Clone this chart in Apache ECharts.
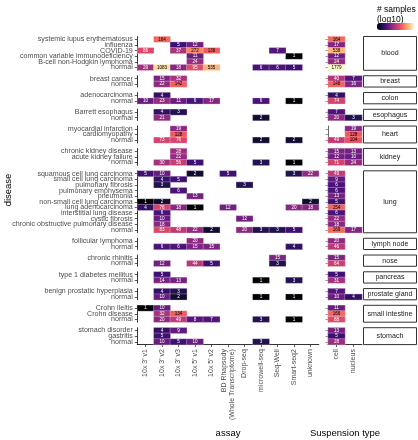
<!DOCTYPE html>
<html><head><meta charset="utf-8">
<script src="https://cdn.jsdelivr.net/npm/echarts/dist/echarts.min.js"></script>
<style>html,body{margin:0;padding:0;background:#fff}#c{width:418px;height:440px}</style>
</head><body><div id="c"></div><script>
const tissues = ['blood','breast','colon','esophagus','heart','kidney','lung','lymph node','nose','pancreas','prostate gland','small intestine','stomach'];
const diseases = [
 ['systemic lupus erythematosus','influenza','COVID-19','common variable immunodeficiency','B-cell non-Hodgkin lymphoma','normal'],
 ['breast cancer','normal'],
 ['adenocarcinoma','normal'],
 ['Barrett esophagus','normal'],
 ['myocardial infarction','cardiomyopathy','normal'],
 ['chronic kidney disease','acute kidney failure','normal'],
 ['squamous cell lung carcinoma','small cell lung carcinoma','pulmonary fibrosis','pulmonary emphysema','pneumonia','non-small cell lung carcinoma','lung adenocarcinoma','interstitial lung disease','cystic fibrosis','chronic obstructive pulmonary disease','normal'],
 ['follicular lymphoma','normal'],
 ['chronic rhinitis','normal'],
 ['type 1 diabetes mellitus','normal'],
 ['benign prostatic hyperplasia','normal'],
 ['Crohn ileitis','Crohn disease','normal'],
 ['stomach disorder','gastritis','normal']
];
const assays = ["10x 3' v1","10x 3' v2","10x 3' v3","10x 5' v1","10x 5' v2","BD Rhapsody\n(Whole Transcriptome)","Drop-seq","microwell-seq","Seq-Well","Smart-seq2","unknown"];
const suspensionTypes = ['cell','nucleus'];
const BD = assays[5];

// [tissue, disease, assay, number of samples]
const assayCounts = [
 ['blood','systemic lupus erythematosus',"10x 3' v2",164],
 ['blood','influenza',"10x 3' v3",5],['blood','influenza',"10x 5' v1",12],
 ['blood','COVID-19',"10x 3' v1",86],['blood','COVID-19',"10x 3' v3",37],['blood','COVID-19',"10x 5' v1",272],['blood','COVID-19',"10x 5' v2",136],['blood','COVID-19','Seq-Well',7],
 ['blood','common variable immunodeficiency',"10x 5' v1",11],['blood','common variable immunodeficiency','Smart-seq2',1],
 ['blood','B-cell non-Hodgkin lymphoma',"10x 5' v1",24],
 ['blood','normal',"10x 3' v1",29],['blood','normal',"10x 3' v2",1083],['blood','normal',"10x 3' v3",18],['blood','normal',"10x 5' v1",95],['blood','normal',"10x 5' v2",535],['blood','normal','microwell-seq',6],['blood','normal','Seq-Well',6],['blood','normal','Smart-seq2',5],
 ['breast','breast cancer',"10x 3' v2",15],['breast','breast cancer',"10x 3' v3",32],
 ['breast','normal',"10x 3' v2",22],['breast','normal',"10x 3' v3",142],
 ['colon','adenocarcinoma',"10x 3' v2",4],
 ['colon','normal',"10x 3' v1",10],['colon','normal',"10x 3' v2",23],['colon','normal',"10x 3' v3",11],['colon','normal',"10x 5' v1",6],['colon','normal',"10x 5' v2",17],['colon','normal','microwell-seq',6],['colon','normal','Smart-seq2',1],
 ['esophagus','Barrett esophagus',"10x 3' v2",4],['esophagus','Barrett esophagus',"10x 3' v3",3],
 ['esophagus','normal',"10x 3' v2",21],['esophagus','normal','microwell-seq',2],
 ['heart','myocardial infarction',"10x 3' v3",19],
 ['heart','cardiomyopathy',"10x 3' v3",128],
 ['heart','normal',"10x 3' v2",73],['heart','normal',"10x 3' v3",76],['heart','normal','microwell-seq',2],['heart','normal','Smart-seq2',2],
 ['kidney','chronic kidney disease',"10x 3' v3",28],
 ['kidney','acute kidney failure',"10x 3' v3",22],
 ['kidney','normal',"10x 3' v2",30],['kidney','normal',"10x 3' v3",56],['kidney','normal',"10x 5' v1",5],['kidney','normal','microwell-seq',3],['kidney','normal','Smart-seq2',1],
 ['lung','squamous cell lung carcinoma',"10x 3' v1",5],['lung','squamous cell lung carcinoma',"10x 3' v2",10],['lung','squamous cell lung carcinoma',"10x 5' v1",2],['lung','squamous cell lung carcinoma',BD,5],['lung','squamous cell lung carcinoma','Smart-seq2',3],['lung','squamous cell lung carcinoma','unknown',22],
 ['lung','small cell lung carcinoma',"10x 3' v2",4],['lung','small cell lung carcinoma',"10x 3' v3",5],
 ['lung','pulmonary fibrosis',"10x 3' v2",3],['lung','pulmonary fibrosis','Drop-seq',3],
 ['lung','pulmonary emphysema',"10x 3' v3",6],
 ['lung','pneumonia',"10x 5' v1",13],
 ['lung','non-small cell lung carcinoma',"10x 3' v1",1],['lung','non-small cell lung carcinoma',"10x 3' v2",2],['lung','non-small cell lung carcinoma','unknown',2],
 ['lung','lung adenocarcinoma',"10x 3' v1",4],['lung','lung adenocarcinoma',"10x 3' v2",76],['lung','lung adenocarcinoma',"10x 3' v3",18],['lung','lung adenocarcinoma',"10x 5' v1",1],['lung','lung adenocarcinoma',BD,12],['lung','lung adenocarcinoma','Smart-seq2',20],['lung','lung adenocarcinoma','unknown',18],
 ['lung','interstitial lung disease',"10x 3' v2",6],
 ['lung','cystic fibrosis',"10x 3' v2",10],['lung','cystic fibrosis','Drop-seq',12],
 ['lung','chronic obstructive pulmonary disease',"10x 3' v2",18],
 ['lung','normal',"10x 3' v2",83],['lung','normal',"10x 3' v3",48],['lung','normal',"10x 5' v1",22],['lung','normal',"10x 5' v2",2],['lung','normal','Drop-seq',20],['lung','normal','microwell-seq',3],['lung','normal','Seq-Well',3],['lung','normal','Smart-seq2',5],
 ['lymph node','follicular lymphoma',"10x 5' v1",20],
 ['lymph node','normal',"10x 3' v2",6],['lymph node','normal',"10x 3' v3",6],['lymph node','normal',"10x 5' v1",15],['lymph node','normal',"10x 5' v2",15],['lymph node','normal','Smart-seq2',4],
 ['nose','chronic rhinitis','Seq-Well',15],
 ['nose','normal',"10x 3' v2",12],['nose','normal',"10x 5' v1",44],['nose','normal',"10x 5' v2",5],['nose','normal','Seq-Well',3],
 ['pancreas','type 1 diabetes mellitus',"10x 3' v2",5],
 ['pancreas','normal',"10x 3' v2",14],['pancreas','normal',"10x 3' v3",13],['pancreas','normal','microwell-seq',1],['pancreas','normal','Smart-seq2',3],
 ['prostate gland','benign prostatic hyperplasia',"10x 3' v2",4],['prostate gland','benign prostatic hyperplasia',"10x 3' v3",3],
 ['prostate gland','normal',"10x 3' v2",10],['prostate gland','normal',"10x 3' v3",2],['prostate gland','normal','microwell-seq',1],['prostate gland','normal','Smart-seq2',1],
 ['small intestine','Crohn ileitis',"10x 3' v1",1],['small intestine','Crohn ileitis',"10x 3' v2",10],
 ['small intestine','Crohn disease',"10x 3' v2",32],['small intestine','Crohn disease',"10x 3' v3",134],
 ['small intestine','normal',"10x 3' v2",20],['small intestine','normal',"10x 3' v3",49],['small intestine','normal',"10x 5' v1",8],['small intestine','normal',"10x 5' v2",7],['small intestine','normal','microwell-seq',3],['small intestine','normal','Smart-seq2',1],
 ['stomach','stomach disorder',"10x 3' v2",4],['stomach','stomach disorder',"10x 3' v3",9],
 ['stomach','gastritis',"10x 3' v2",5],
 ['stomach','normal',"10x 3' v2",10],['stomach','normal',"10x 3' v3",5],['stomach','normal',"10x 5' v1",10],['stomach','normal','microwell-seq',3]
];

// [tissue, disease, suspension type, number of samples]
const suspensionCounts = [
 ['blood','systemic lupus erythematosus','cell',164],['blood','influenza','cell',17],['blood','COVID-19','cell',538],['blood','common variable immunodeficiency','cell',12],['blood','B-cell non-Hodgkin lymphoma','cell',24],['blood','normal','cell',1779],
 ['breast','breast cancer','cell',40],['breast','breast cancer','nucleus',7],['breast','normal','cell',148],['breast','normal','nucleus',16],
 ['colon','adenocarcinoma','cell',4],['colon','normal','cell',74],
 ['esophagus','Barrett esophagus','cell',7],['esophagus','normal','cell',20],['esophagus','normal','nucleus',3],
 ['heart','myocardial infarction','nucleus',19],['heart','cardiomyopathy','nucleus',128],['heart','normal','cell',49],['heart','normal','nucleus',104],
 ['kidney','chronic kidney disease','cell',15],['kidney','chronic kidney disease','nucleus',13],['kidney','acute kidney failure','cell',12],['kidney','acute kidney failure','nucleus',10],['kidney','normal','cell',71],['kidney','normal','nucleus',24],
 ['lung','squamous cell lung carcinoma','cell',49],['lung','small cell lung carcinoma','cell',9],['lung','pulmonary fibrosis','cell',6],['lung','pulmonary emphysema','cell',6],['lung','pneumonia','cell',13],['lung','non-small cell lung carcinoma','cell',5],['lung','lung adenocarcinoma','cell',154],['lung','interstitial lung disease','cell',6],['lung','cystic fibrosis','cell',22],['lung','chronic obstructive pulmonary disease','cell',18],['lung','normal','cell',169],['lung','normal','nucleus',17],
 ['lymph node','follicular lymphoma','cell',20],['lymph node','normal','cell',46],
 ['nose','chronic rhinitis','cell',15],['nose','normal','cell',64],
 ['pancreas','type 1 diabetes mellitus','cell',5],['pancreas','normal','cell',31],
 ['prostate gland','benign prostatic hyperplasia','cell',7],['prostate gland','normal','cell',10],['prostate gland','normal','nucleus',4],
 ['small intestine','Crohn ileitis','cell',11],['small intestine','Crohn disease','cell',166],['small intestine','normal','cell',88],
 ['stomach','stomach disorder','cell',13],['stomach','gastritis','cell',5],['stomach','normal','cell',28]
];

const magma = ['#000004','#0c0926','#221150','#400f74','#5f187f','#7b2382','#982d80','#b73779','#d3436e','#eb5760','#f8765c','#fd9a6a','#febb81','#fddc9e','#fcfdbf'];
const vmax = Math.log10(1779);

const top0 = 36.5, rowH = 5.63, gap = 5.5;
const leftX = 137.3, leftW = 181.5, rightX = 328, rightW = 34;
const axisCol = '#4d4d4d', FONT = 'Liberation Sans, Arial, sans-serif';

const grid = [], xAxis = [], yAxis = [], series = [], graphic = [];
let cum = 0;
function cellItems(records, tissue, rows, cols){
  return records.filter(r => r[0] === tissue).map(r => ({
    value: [cols.indexOf(r[2]), rows.indexOf(r[1]), Math.log10(r[3])],
    n: r[3],
    label: {color: r[3] >= 100 ? '#000' : '#fff'}
  }));
}
tissues.forEach((t, i) => {
  const rows = diseases[i];
  const top = top0 + cum * rowH + i * gap;
  const h = rows.length * rowH;
  cum += rows.length;
  const last = i === tissues.length - 1;
  [[leftX, leftW, assays, assayCounts, true], [rightX, rightW, suspensionTypes, suspensionCounts, false]].forEach(([gx, gw, cols, recs, isLeft]) => {
    const gi = grid.length;
    grid.push({left: gx, top: top, width: gw, height: h, containLabel: false, outerBoundsMode: 'none'});
    xAxis.push({
      type: 'category', gridIndex: gi, data: cols, show: last,
      axisLine: {show: last, lineStyle: {color: '#000', width: 0.8}},
      axisTick: {show: last, alignWithLabel: true, length: 2.5, interval: 0, lineStyle: {color: '#333', width: 0.8}},
      axisLabel: {show: last, rotate: 90, interval: 0, fontSize: 7, color: axisCol, margin: 4.5, fontFamily: FONT, lineHeight: 8, hideOverlap: false},
      splitLine: {show: false}, splitArea: {show: false}
    });
    yAxis.push({
      type: 'category', gridIndex: gi, data: rows, inverse: true,
      axisLine: {show: true, lineStyle: {color: isLeft ? '#000' : '#666', width: isLeft ? 0.8 : 1}},
      axisTick: {show: true, alignWithLabel: true, length: 2.5, interval: 0, lineStyle: {color: isLeft ? '#333' : '#777', width: 0.8}},
      axisLabel: {show: isLeft, interval: 0, fontSize: 7.1, color: axisCol, margin: 4.5, fontFamily: FONT, hideOverlap: false},
      splitLine: {show: false}, splitArea: {show: false}
    });
    series.push({
      type: 'heatmap', xAxisIndex: gi, yAxisIndex: gi,
      data: cellItems(recs, t, rows, cols),
      itemStyle: {borderColor: 'rgba(255,255,255,0.55)', borderWidth: 0.5},
      label: {show: true, fontSize: 4.6, fontFamily: FONT, formatter: p => String(p.data.n)},
      emphasis: {disabled: true}, silent: true
    });
  });
  graphic.push({type: 'rect', shape: {x: 363.5, y: top, width: 53, height: h}, style: {fill: '#fff', stroke: '#333', lineWidth: 1}, silent: true});
  graphic.push({type: 'text', x: 390, y: top + h / 2, style: {text: t, align: 'center', verticalAlign: 'middle', fontSize: 7.1, fill: '#1a1a1a', fontFamily: FONT}, silent: true});
});

graphic.push({type: 'text', x: 8, y: 190, rotation: Math.PI / 2, style: {text: 'disease', align: 'center', verticalAlign: 'middle', fontSize: 9.5, fill: '#000', fontFamily: FONT}});
graphic.push({type: 'text', x: 228, y: 433, style: {text: 'assay', align: 'center', verticalAlign: 'middle', fontSize: 9.5, fill: '#000', fontFamily: FONT}});
graphic.push({type: 'text', x: 345, y: 433, style: {text: 'Suspension type', align: 'center', verticalAlign: 'middle', fontSize: 9.5, fill: '#000', fontFamily: FONT}});
graphic.push({type: 'text', x: 377, y: 5, style: {text: '# samples\n(log10)', align: 'left', verticalAlign: 'top', fontSize: 8.5, lineHeight: 10, fill: '#000', fontFamily: FONT}});

const chart = echarts.init(document.getElementById('c'));
chart.setOption({
  animation: false,
  backgroundColor: '#fff',
  grid, xAxis, yAxis, series, graphic,
  visualMap: {
    type: 'continuous', min: 0, max: vmax, dimension: 2,
    inRange: {color: magma}, orient: 'horizontal', left: 377, top: 23,
    itemWidth: 7, itemHeight: 37, calculable: false, text: null, padding: 0,
    textStyle: {fontSize: 0}
  }
});
</script></body></html>
